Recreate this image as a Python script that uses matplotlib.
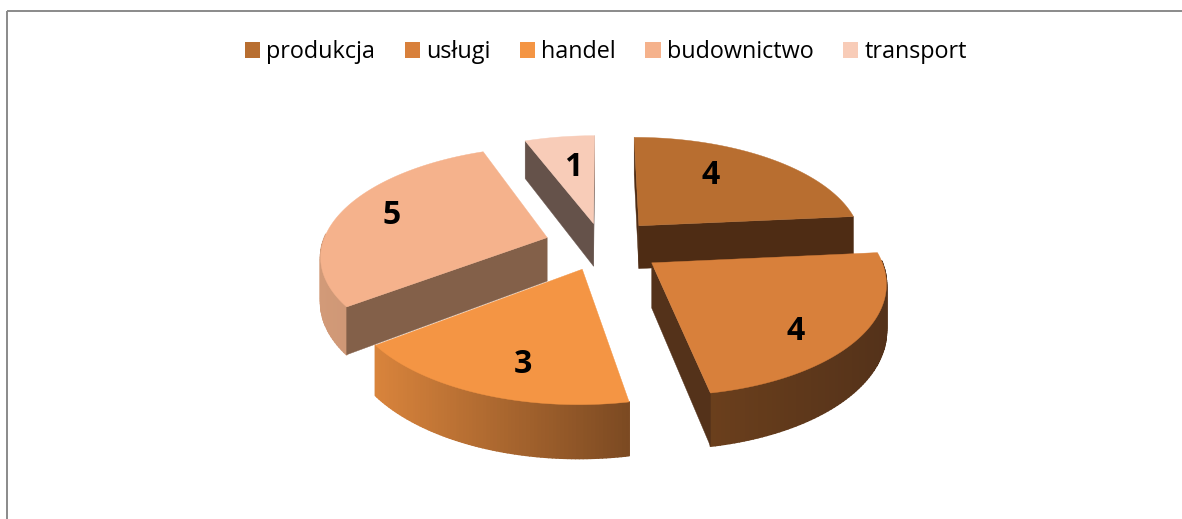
import numpy as np
import matplotlib
matplotlib.use("Agg")
import matplotlib.pyplot as plt
from matplotlib.patches import Polygon, Patch, Rectangle
from matplotlib.colors import to_rgb

categories = ["produkcja", "usługi", "handel", "budownictwo", "transport"]
values = [4, 4, 3, 5, 1]

top_colors = ["#B86E30", "#D8803B", "#F49544", "#F5B28C", "#F8CCB8"]
wall_colors = ["#4E2C14", "#54321A", "#8A5A2C", "#836049", "#65524A"]
# outer rim gradient, left end then right end
rim_left = ["#6B4020", "#6B3F1C", "#D9843C", "#D29A78", "#B89A8A"]
rim_right = ["#4E2C14", "#54321A", "#7C4A22", "#C08C6C", "#A08070"]
label_nudge = [(-15, -5), (13, 22), (3, 19), (-21, -4), (3, 3)]  # px
explode = [0.25, 0.27, 0.235, 0.256, 0.21]

# projection settings, in picture pixels
cx, cy = 602, 245
rx, ry = 225, 107
persp = 0.15
depth = 44


def project(u, v, z=0.0):
    s = 1 / (1 - persp * v)
    return cx + rx * u * s, cy + (ry * v + depth * z) * s


def lerp(a, b, t):
    a, b = np.array(to_rgb(a)), np.array(to_rgb(b))
    return tuple(a + (b - a) * t)


fig = plt.figure(figsize=(11.82, 5.19), dpi=100)
ax = fig.add_axes([0, 0, 1, 1])
ax.set_xlim(0, 1182)
ax.set_ylim(519, 0)
ax.axis("off")

# chart frame
ax.add_patch(Rectangle((7, 10.5), 1300, 600, fill=False, ec="#8A8A8A", lw=1.4))

fracs = np.array(values) / sum(values)
starts = np.concatenate([[0], np.cumsum(fracs)[:-1]]) * 2 * np.pi
ends = np.cumsum(fracs) * 2 * np.pi

# back slices first so the nearer ones cover them
order = [4, 3, 0, 2, 1]
for i in order:
    th = np.linspace(starts[i], ends[i], 80)
    mid = (starts[i] + ends[i]) / 2
    ou, ov = explode[i] * np.sin(mid), -explode[i] * np.cos(mid)
    us = ou + np.sin(th)
    vs = ov - np.cos(th)

    top_arc = [project(u, v, 0) for u, v in zip(us, vs)]
    low_arc = [project(u, v, 1) for u, v in zip(us, vs)]
    apex_top = project(ou, ov, 0)
    apex_low = project(ou, ov, 1)

    # outer rim, coloured by horizontal position along the slice
    # the far side of the rim stays hidden behind the top face
    xs = np.array([p[0] for p in top_arc])
    for k in range(len(th) - 1):
        if -np.cos(th[k]) < -0.02:
            continue
        t = (xs[k] - xs.min()) / (xs.max() - xs.min())
        c = lerp(rim_left[i], rim_right[i], t)
        ax.add_patch(Polygon([top_arc[k], top_arc[k + 1], low_arc[k + 1], low_arc[k]],
                             closed=True, fc=c, ec=c, lw=1.2, joinstyle="round"))

    # radial walls, only the ones that face the viewer
    arc_mid = top_arc[len(top_arc) // 2]
    for k in (0, -1):
        ex, ey = top_arc[k][0] - apex_top[0], top_arc[k][1] - apex_top[1]
        side = ex * (arc_mid[1] - apex_top[1]) - ey * (arc_mid[0] - apex_top[0])
        if ex * side < 0:
            ax.add_patch(Polygon([apex_top, top_arc[k], low_arc[k], apex_low],
                                 closed=True, fc=wall_colors[i], ec=wall_colors[i], lw=0.3))

    ax.add_patch(Polygon([apex_top] + top_arc, closed=True,
                         fc=top_colors[i], ec=top_colors[i], lw=0.3))

    lx, ly = project(ou + 0.65 * np.sin(mid), ov - 0.65 * np.cos(mid), 0)
    ax.annotate(str(values[i]), (lx, ly), xytext=(label_nudge[i][0] * 0.72, -label_nudge[i][1] * 0.72),
                textcoords="offset points", ha="center", va="center",
                fontsize=23, fontweight="bold", family="Open Sans", color="black", zorder=20)

handles = [Patch(fc=c, ec="none", label=n) for c, n in zip(top_colors, categories)]
leg = fig.legend(handles=handles, ncol=5, loc="center", bbox_to_anchor=(606 / 1182, 1 - 52 / 519),
                 frameon=False, handlelength=0.66, handleheight=0.72, handletextpad=0.27,
                 columnspacing=1.25, prop={"family": "Open Sans", "size": 16.8})

fig.savefig("out.png", dpi=100)
